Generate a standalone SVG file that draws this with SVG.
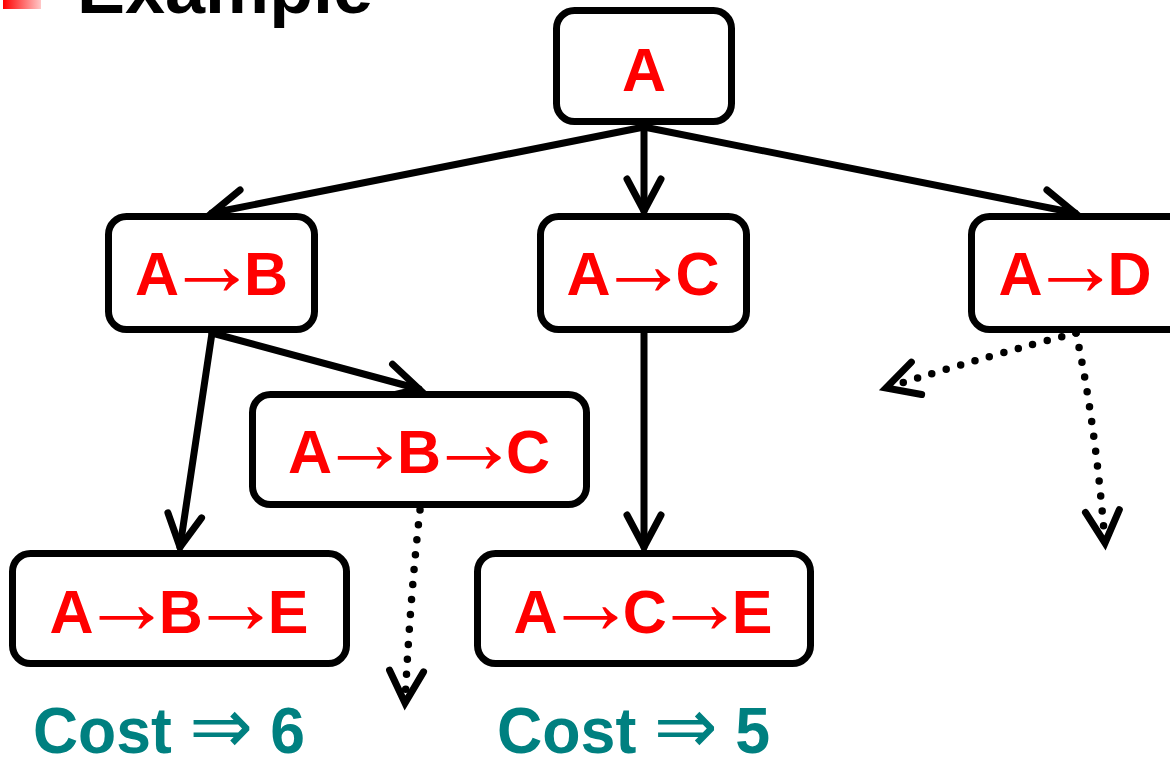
<svg xmlns="http://www.w3.org/2000/svg" width="1170" height="757" viewBox="0 0 1170 757">
<defs>
<linearGradient id="bul" x1="0" y1="0" x2="1" y2="0">
<stop offset="0" stop-color="#ff0000"/>
<stop offset="1" stop-color="#ffc8c8"/>
</linearGradient>
<marker id="chev" markerUnits="userSpaceOnUse" orient="auto" markerWidth="80" markerHeight="80" refX="0" refY="0" viewBox="-40 -40 80 80" overflow="visible">
<path d="M -32 -17 L 0 0 L -32 17" fill="none" stroke="#000" stroke-width="7" stroke-linecap="round" stroke-linejoin="miter"/>
</marker>
</defs>
<style>
.box{fill:#fff;stroke:#000;stroke-width:7}
.lbl{font-family:"Liberation Sans",Arial,sans-serif;font-weight:bold;font-size:61px;fill:#ff0000;text-anchor:middle}
.ar{font-family:"Liberation Sans",Arial,sans-serif;font-weight:normal;font-size:91px}
.solid{fill:none;stroke:#000;stroke-width:7;stroke-linecap:round;marker-end:url(#chev)}
.dot{fill:none;stroke:#000;stroke-width:7.5;stroke-linecap:round;stroke-dasharray:0 15;marker-end:url(#chev)}
.cost{font-family:"Liberation Sans",Arial,sans-serif;font-weight:bold;font-size:64px;fill:#008080}
.imp{font-family:"DejaVu Sans",sans-serif;font-weight:normal;font-size:78px}
</style>
<rect x="3" y="-30" width="38" height="39" fill="url(#bul)"/>
<text x="77" y="13" font-family="Liberation Sans,Arial,sans-serif" font-weight="bold" font-size="72" fill="#000">Example</text>
<g id="connectors">
<line class="solid" x1="644" y1="127" x2="212" y2="213"/>
<line class="solid" x1="644" y1="127" x2="644" y2="211"/>
<line class="solid" x1="644" y1="127" x2="1075" y2="213"/>
<line class="solid" x1="212" y1="333" x2="180" y2="547"/>
<line class="solid" x1="212" y1="333" x2="419" y2="389"/>
<line class="solid" x1="644" y1="333" x2="644" y2="547"/>
<path class="dot" d="M 420 510 Q 410 600 405 703"/>
<path class="dot" d="M 1076 333 Q 990 355 886 388"/>
<path class="dot" d="M 1076 333 Q 1095 420 1105 543"/>
</g>
<g id="nA"><rect class="box" x="556.5" y="10.5" width="175" height="111" rx="18"/><text class="lbl" x="644" y="91" font-size="66">A</text></g>
<g id="nAB"><rect class="box" x="108.5" y="216.5" width="206" height="113" rx="18"/><text class="lbl" x="211.5" y="295">A<tspan class="ar" dx="-13">→</tspan><tspan dx="-13">B</tspan></text></g>
<g id="nAC"><rect class="box" x="540.5" y="216.5" width="206" height="113" rx="18"/><text class="lbl" x="643" y="295">A<tspan class="ar" dx="-13">→</tspan><tspan dx="-13">C</tspan></text></g>
<g id="nAD"><rect class="box" x="971.5" y="216.5" width="215" height="113" rx="18"/><text class="lbl" x="1075" y="295">A<tspan class="ar" dx="-13">→</tspan><tspan dx="-13">D</tspan></text></g>
<g id="nABC"><rect class="box" x="252.5" y="394.5" width="334" height="110" rx="18"/><text class="lbl" x="419" y="473">A<tspan class="ar" dx="-13">→</tspan><tspan dx="-13">B</tspan><tspan class="ar" dx="-13">→</tspan><tspan dx="-13">C</tspan></text></g>
<g id="nABE"><rect class="box" x="12.5" y="553.5" width="334" height="110" rx="18"/><text class="lbl" x="179" y="633">A<tspan class="ar" dx="-13">→</tspan><tspan dx="-13">B</tspan><tspan class="ar" dx="-13">→</tspan><tspan dx="-13">E</tspan></text></g>
<g id="nACE"><rect class="box" x="477.5" y="553.5" width="333" height="110" rx="18"/><text class="lbl" x="643" y="633">A<tspan class="ar" dx="-13">→</tspan><tspan dx="-13">C</tspan><tspan class="ar" dx="-13">→</tspan><tspan dx="-13">E</tspan></text></g>
<text class="cost" x="33" y="753" textLength="272" lengthAdjust="spacingAndGlyphs">Cost <tspan class="imp">⇒</tspan> 6</text>
<text class="cost" x="497" y="753" textLength="273" lengthAdjust="spacingAndGlyphs">Cost <tspan class="imp">⇒</tspan> 5</text>
</svg>
